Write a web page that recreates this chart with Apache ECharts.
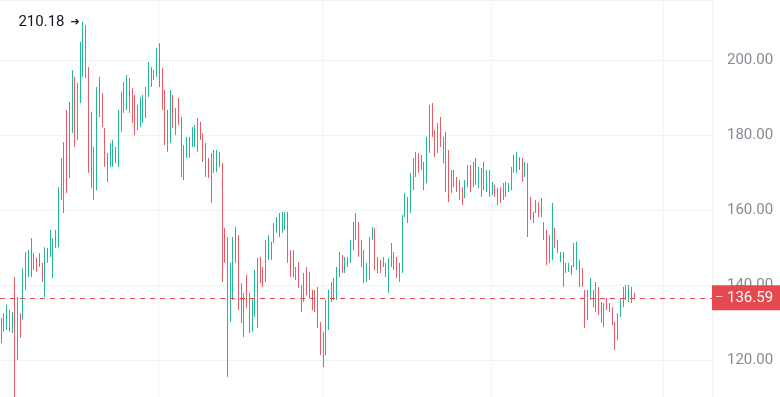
<!DOCTYPE html>
<html>
<head>
<meta charset="utf-8">
<script src="https://cdn.jsdelivr.net/npm/echarts@6/dist/echarts.min.js"></script>
<style>
  html, body { margin: 0; padding: 0; background: #fff; }
  #chart { width: 780px; height: 397px; }
</style>
</head>
<body>
<div id="chart"></div>
<script>
  // candles (oldest -> newest)
  var openData = [
    130.7,128.0,128.5,128.0,127.7,141.5,121.0,132.0,131.2,139.2,
    142.6,152.0,148.2,146.9,145.1,145.5,137.3,146.2,148.0,142.4,
    150.2,150.6,163.2,159.7,186.2,169.0,181.0,195.0,179.2,189.0,
    196.0,208.8,197.6,185.6,163.2,165.8,195.0,190.7,181.4,168.0,
    172.0,172.0,176.5,172.0,181.3,186.4,187.2,194.7,192.0,190.2,
    187.5,182.6,183.7,185.0,190.6,197.6,194.9,196.0,204.0,197.4,
    191.5,176.0,178.4,190.2,180.5,189.4,184.3,168.5,174.2,174.4,
    177.1,177.2,176.0,183.2,180.0,177.4,173.5,162.4,170.4,170.5,
    171.8,172.0,154.7,152.3,130.6,136.5,155.0,152.8,140.0,126.6,
    142.2,137.4,128.0,132.0,129.0,147.0,144.4,141.3,147.2,147.1,
    151.6,154.2,153.2,154.3,155.0,159.0,148.8,148.9,144.5,145.7,
    139.6,135.9,144.4,143.1,138.3,138.3,139.0,129.6,127.0,121.8,
    128.5,140.4,141.5,136.5,142.6,147.6,143.6,145.1,146.3,149.8,
    152.5,156.3,151.5,148.8,141.2,141.8,152.3,154.7,147.1,146.3,
    147.2,145.5,138.4,145.3,148.4,147.1,141.2,143.7,158.6,163.0,
    159.7,165.8,169.3,174.8,174.3,172.3,167.7,175.7,188.0,180.9,
    182.7,184.3,179.0,165.3,175.5,165.0,166.5,168.4,167.6,165.7,
    163.6,166.6,171.5,172.3,173.4,166.3,170.7,165.8,165.2,170.2,
    164.3,166.4,165.5,165.7,163.1,163.9,165.0,165.8,170.3,170.3,
    173.8,173.4,169.2,172.0,163.1,156.8,159.5,161.8,162.8,156.4,
    154.2,146.4,147.2,154.8,151.7,146.4,148.3,143.5,143.8,145.0,
    145.3,144.5,146.2,144.1,138.2,131.2,136.4,138.3,133.3,139.0,
    135.1,129.3,136.2,134.9,133.7,129.6,125.8,131.9,134.6,139.6,
    135.9,139.1,137.6
  ];
  var closeData = [
    125.0,132.0,134.2,132.8,132.3,120.5,136.0,126.4,144.0,148.3,
    148.8,142.6,144.3,143.8,148.2,141.2,149.6,149.6,154.2,152.0,
    154.4,165.6,173.4,177.6,165.0,188.3,196.8,177.3,193.4,204.3,
    209.5,195.7,170.4,166.4,176.3,192.3,185.3,182.6,172.0,174.7,
    177.4,178.2,172.8,186.2,191.0,193.6,195.5,186.4,183.7,180.5,
    181.8,189.6,190.2,192.3,199.0,193.3,197.1,202.7,193.3,187.2,
    177.8,186.2,191.5,182.4,186.7,183.2,169.3,176.8,179.2,179.0,
    181.8,182.3,184.0,179.0,173.3,169.3,169.0,174.7,175.5,175.6,
    175.2,141.3,146.4,116.0,145.4,152.3,146.4,133.8,130.4,137.4,
    134.4,127.7,136.0,143.5,146.7,141.0,139.9,151.5,152.8,151.1,
    156.1,157.8,158.8,159.1,159.2,146.4,142.6,142.5,141.6,139.6,
    133.2,142.8,137.7,136.9,133.7,133.2,129.0,121.8,118.6,135.5,
    138.2,135.9,136.4,144.3,148.3,143.6,147.1,147.2,151.6,156.3,
    158.7,148.0,145.3,141.0,145.5,152.3,155.2,144.5,143.6,143.6,
    145.1,142.5,146.7,150.7,144.4,142.3,145.5,158.2,164.0,157.0,
    169.4,173.4,175.0,170.3,171.0,165.8,179.0,187.5,180.0,174.6,
    175.7,177.3,173.0,180.3,162.6,170.2,170.3,165.2,163.1,161.7,
    167.6,171.5,165.3,166.6,167.2,171.1,164.0,172.3,170.3,164.0,
    167.2,163.8,161.7,162.3,166.8,167.1,167.0,171.0,174.3,175.1,
    171.0,168.0,172.4,153.3,157.7,159.2,162.4,158.5,158.5,152.4,
    145.8,152.8,161.4,150.3,148.8,148.5,140.0,145.6,145.6,143.0,
    150.7,151.0,140.0,139.9,129.0,138.2,141.5,134.5,140.3,132.5,
    130.3,134.8,133.6,133.1,129.7,123.2,132.0,136.1,139.0,136.4,
    139.6,135.6,136.59
  ];
  var lowData = [
    124.5,127.5,128.0,127.5,127.2,110.1,120.0,125.9,130.7,138.7,
    142.1,142.1,144.0,143.5,144.8,140.8,136.8,145.9,147.5,141.9,
    149.9,150.1,162.7,159.2,164.5,168.5,180.5,176.8,178.7,188.5,
    195.5,195.2,169.9,165.9,162.7,165.3,184.8,182.1,171.5,167.5,
    171.5,171.5,172.5,171.5,180.8,185.9,186.7,185.9,183.2,180.0,
    181.3,182.1,183.2,184.5,190.1,192.8,194.7,195.5,192.8,186.7,
    177.3,175.5,177.9,181.9,180.0,182.7,168.8,168.0,173.9,173.9,
    176.8,176.8,175.5,178.7,172.8,168.8,168.5,161.9,169.9,170.1,
    171.5,140.8,145.9,115.5,130.1,136.0,145.9,133.3,129.9,126.1,
    133.9,127.2,127.5,131.5,128.5,140.5,139.5,140.8,146.7,146.7,
    151.2,153.9,152.8,153.9,154.7,145.9,142.1,142.1,141.3,139.2,
    132.8,135.5,137.3,136.5,133.3,132.8,128.5,121.3,118.1,121.3,
    128.0,135.5,136.0,136.0,142.1,143.2,143.2,144.8,145.9,149.3,
    152.0,147.5,144.8,140.5,140.8,141.3,152.0,144.0,143.2,143.2,
    144.8,142.1,137.9,144.8,144.0,141.9,140.8,143.2,158.1,156.5,
    159.2,165.3,168.8,169.9,170.7,165.3,167.2,175.2,179.5,174.1,
    175.2,176.8,172.5,164.8,162.1,164.5,166.1,164.8,162.7,161.3,
    163.2,166.1,164.8,166.1,166.7,165.9,163.5,165.3,164.8,163.5,
    164.0,163.5,161.3,161.9,162.7,163.5,164.8,165.3,169.9,169.9,
    170.7,167.5,168.8,152.8,157.3,156.5,159.2,158.1,158.1,152.0,
    145.3,145.9,146.7,149.9,148.5,146.1,139.5,143.2,143.5,142.7,
    144.8,144.0,139.5,139.5,128.5,130.7,136.0,134.1,132.8,132.0,
    129.9,128.8,133.3,132.8,129.3,122.7,125.3,131.5,134.1,136.0,
    135.5,135.2,136.5
  ];
  var highData = [
    131.2,132.5,134.7,133.3,132.8,142.1,136.8,132.5,144.5,148.8,
    149.3,152.5,148.5,147.2,148.5,145.9,150.1,149.9,154.7,152.5,
    154.7,166.1,173.9,178.1,186.7,188.8,197.3,195.5,193.9,204.8,
    210.18,209.3,198.1,186.1,176.8,192.8,195.5,191.2,181.9,175.2,
    177.9,178.7,176.8,186.7,191.5,194.1,196.0,195.2,192.5,190.7,
    188.0,190.1,190.7,192.8,199.5,198.1,197.3,203.2,204.5,197.9,
    192.0,186.7,192.0,190.7,187.2,189.9,184.8,177.3,179.5,179.5,
    182.1,182.7,184.5,183.5,180.5,177.9,173.9,175.2,176.0,176.0,
    175.5,172.5,155.2,152.8,145.9,152.8,155.5,153.3,140.5,137.9,
    142.7,137.9,136.5,144.0,147.2,147.5,144.8,152.0,153.3,151.5,
    156.5,158.1,159.2,159.5,159.5,159.5,149.3,149.3,144.8,146.1,
    140.0,143.2,144.8,143.5,138.7,138.7,139.5,130.1,127.5,136.0,
    138.7,140.8,141.9,144.8,148.8,148.0,147.5,147.5,152.0,156.8,
    159.2,156.8,152.0,149.3,145.9,152.8,155.5,155.2,147.5,146.7,
    147.5,145.9,147.2,151.2,148.8,147.5,145.9,158.7,164.5,163.5,
    169.9,173.9,175.5,175.2,174.7,172.8,179.5,188.0,188.5,181.3,
    183.2,184.8,179.5,180.8,176.0,170.7,170.7,168.8,168.0,166.1,
    168.0,172.0,172.0,172.8,173.9,171.5,171.2,172.8,170.7,170.7,
    167.5,166.7,165.9,166.1,167.2,167.5,167.2,171.5,174.7,175.5,
    174.1,173.9,172.8,172.5,163.5,159.5,162.7,162.1,163.2,156.8,
    154.7,153.3,161.9,155.2,152.0,148.8,148.8,145.9,145.9,145.3,
    151.2,151.5,146.7,144.5,138.7,138.7,141.9,138.7,140.8,139.5,
    135.5,135.2,136.5,135.2,134.1,130.1,132.5,136.5,139.5,140.0,
    140.0,139.5,137.9
  ];

  // 28 empty slots on the right (future space)
  var emptySlots = 28;
  var categories = [];
  for (var i = 0; i < openData.length + emptySlots; i++) categories.push('D' + (i + 1));

  // category boundaries that carry a vertical grid line
  var xGridIdx = [58, 118, 180, 243];
  var lastClose = closeData[closeData.length - 1];

  var upColor = '#22b893';
  var downColor = '#ea5b66';

  var candles = openData.map(function (o, i) {
    return [o, closeData[i], lowData[i], highData[i]];
  });

  var myChart = echarts.init(document.getElementById('chart'));
  var option = {
    animation: false,
    backgroundColor: '#ffffff',
    // 100..216 over 435px: the lower part runs below the window
    grid: { left: 0, right: 68, top: 0, height: 435, outerBoundsMode: 'none', containLabel: false },
    xAxis: {
      type: 'category',
      data: categories,
      boundaryGap: true,
      axisLine: { show: false },
      axisTick: { show: false },
      axisLabel: { show: false },
      splitLine: {
        show: true,
        interval: function (idx) { return xGridIdx.indexOf(idx) >= 0; },
        lineStyle: { color: '#f2f3f5', width: 1 }
      }
    },
    yAxis: {
      type: 'value',
      position: 'right',
      min: 100,
      max: 216,
      interval: 20,
      axisLine: { show: false },
      axisTick: { show: false },
      axisLabel: {
        margin: 15,
        color: '#868a92',
        fontSize: 15,
        fontFamily: 'Roboto',
        showMaxLabel: false,
        formatter: function (v) { return v.toFixed(2); }
      },
      splitLine: { lineStyle: { color: '#f2f3f5', width: 1 } }
    },
    series: [
      {
        type: 'candlestick',
        data: candles,
        barWidth: 1,
        itemStyle: {
          color: upColor,
          color0: downColor,
          borderColor: upColor,
          borderColor0: downColor,
          borderWidth: 1
        },
        markPoint: {
          symbol: 'circle',
          symbolSize: 1,
          itemStyle: { color: 'rgba(0,0,0,0)' },
          label: {
            show: true,
            position: 'left',
            distance: 3,
            formatter: function (p) { return '{v|' + p.value.toFixed(2) + '}{a|\u2794}'; },
            rich: {
              v: { color: '#131722', fontSize: 15, fontFamily: 'Roboto' },
              a: { color: '#131722', fontSize: 11, fontFamily: 'DejaVu Sans', padding: [0, 0, 0, 6] }
            }
          },
          data: [{ type: 'max', valueDim: 'highest' }]
        },
        markLine: {
          silent: true,
          symbol: 'none',
          lineStyle: { color: '#e5484f', type: [5, 5], width: 1 },
          label: {
            show: true,
            position: 'end',
            distance: 0,
            backgroundColor: '#e5484f',
            padding: [5, 7, 5, 3],
            formatter: function (p) { return '{t|\u2013}{v|' + p.value.toFixed(2) + '}'; },
            rich: {
              t: { width: 12, color: 'rgba(255,255,255,0.75)', fontSize: 13, fontFamily: 'Roboto' },
              v: { color: '#ffffff', fontSize: 15, lineHeight: 15, fontFamily: 'Roboto' }
            }
          },
          data: [{ yAxis: lastClose }]
        }
      }
    ]
  };
  option && myChart.setOption(option);
</script>
</body>
</html>
